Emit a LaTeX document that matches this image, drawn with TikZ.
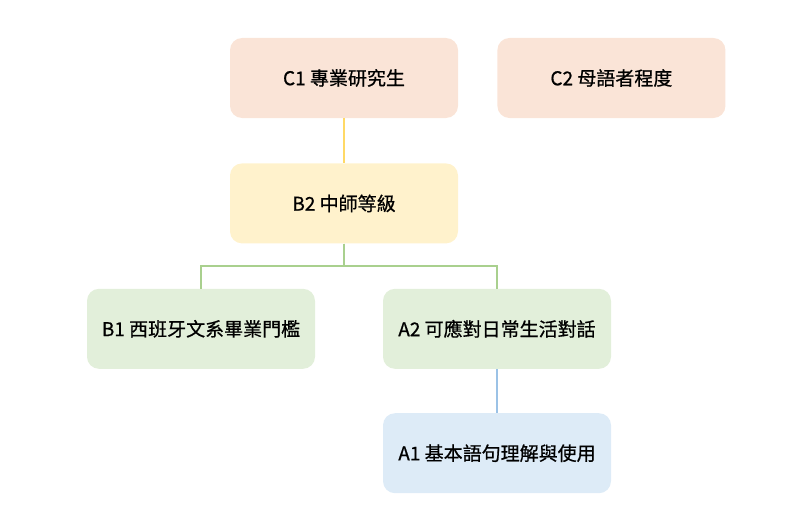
\documentclass[tikz,border=0pt]{standalone}
\usepackage{fontspec}
\setmainfont{Noto Sans CJK TC}[FakeBold=0.7]
\usepackage{xcolor}
\usepackage{tikz}
\usetikzlibrary{positioning}
\definecolor{levelc}{HTML}{FAE4D7}
\definecolor{levelb}{HTML}{FFF2CC}
\definecolor{levelg}{HTML}{E2EFDA}
\definecolor{levela}{HTML}{DDEBF7}
\definecolor{lineyellow}{HTML}{FFD966}
\definecolor{linegreen}{HTML}{A9D08E}
\definecolor{lineblue}{HTML}{9BC2E6}

\begin{document}
\begin{tikzpicture}[
  x=1pt, y=1pt,
  node distance=45pt,
  level/.style={rectangle, rounded corners=12pt, draw=none, minimum width=228pt,
               minimum height=80pt, align=center, font=\fontsize{19}{22}\selectfont, text=black},
  cbox/.style={level, fill=levelc},
  bbox/.style={level, fill=levelb},
  gbox/.style={level, fill=levelg},
  abox/.style={level, fill=levela},
  link/.style={line width=1.8pt}
]
\useasboundingbox (0,0) rectangle (800,-511);

\node[cbox] (c1) at (344,-78) {C1 專業研究生};
\node[cbox, right=39pt of c1] (c2) {C2 母語者程度};
\node[bbox, below=of c1] (b2) {B2 中師等級};
\node[gbox, below=of b2, xshift=-143pt] (b1) {B1 西班牙文系畢業門檻};
\node[gbox, below=of b2, xshift=153pt] (a2) {A2 可應對日常生活對話};
\node[abox, below=44pt of a2] (a1) {A1 基本語句理解與使用};

\draw[link, lineyellow] (c1) -- (b2);
\draw[link, linegreen] (b2.south) -- ++(0,-22) -| (b1.north);
\draw[link, linegreen] (b2.south) -- ++(0,-22) -| (a2.north);
\draw[link, lineblue] (a2) -- (a1);

\end{tikzpicture}
\end{document}
